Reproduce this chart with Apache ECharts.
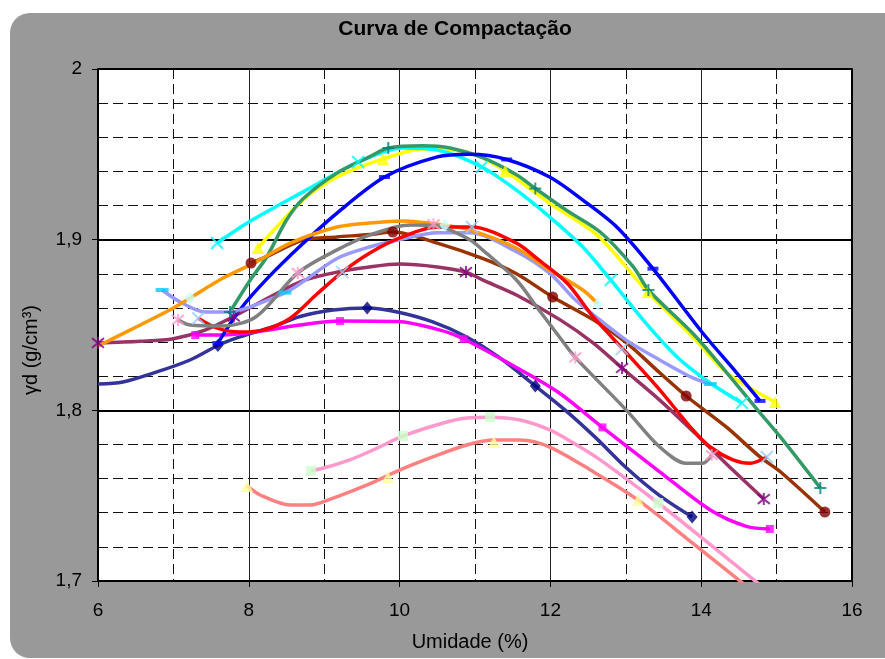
<!DOCTYPE html>
<html><head><meta charset="utf-8">
<script src="https://cdn.jsdelivr.net/npm/echarts@6/dist/echarts.min.js"></script>
<style>html,body{margin:0;padding:0;background:#fff}#c{width:885px;height:659px}</style>
</head><body><div id="c"></div>
<script>
const FONT = "'Liberation Sans', Arial, Helvetica, sans-serif";
const chartTitle = 'Curva de Compactação';
const xName = 'Umidade (%)';
const yName = 'γd (g/cm³)';
const xTicks = [6, 8, 10, 12, 14, 16];
const xTickLabels = ['6', '8', '10', '12', '14', '16'];
const yTicks = [1.7, 1.8, 1.9, 2.0];
const yTickLabels = ['1,7', '1,8', '1,9', '2'];

// Curves (moisture %, dry density g/cm3)
const navyCurve = [[6.0,1.8154],[6.33,1.8166],[6.78,1.8225],[7.22,1.8295],[7.59,1.838],[7.88,1.843],[8.32,1.849],[8.68,1.855],[9.12,1.8588],[9.57,1.860],[9.97,1.8576],[10.44,1.8518],[10.89,1.843],[11.33,1.8307],[11.8,1.8143],[12.2,1.800],[12.6,1.784],[13.01,1.7662],[13.45,1.750],[13.88,1.7375]];
const navyMarks = [[7.59,1.838],[9.57,1.860],[11.8,1.8143],[13.88,1.7375]];

const magentaCurve = [[7.29,1.8441],[7.66,1.8441],[8.1,1.846],[8.68,1.850],[9.21,1.8523],[9.97,1.852],[10.54,1.847],[10.85,1.8418],[11.42,1.8283],[12.09,1.811],[12.69,1.790],[13.45,1.764],[14.12,1.7416],[14.6,1.732],[14.91,1.7305]];
const magentaMarks = [[7.29,1.8441],[9.21,1.8523],[10.85,1.8418],[12.69,1.790],[14.91,1.7305]];

const yellowCurve = [[8.12,1.8951],[8.72,1.9232],[9.17,1.9367],[9.78,1.9473],[10.3,1.953],[10.93,1.951],[11.4,1.9402],[12.0,1.921],[12.62,1.9027],[13.29,1.8693],[13.89,1.843],[14.34,1.822],[14.98,1.8049]];
const yellowMarks = [[8.12,1.8951],[9.78,1.9473],[11.4,1.9402],[13.29,1.8693],[14.98,1.8049]];

const cyanCurve = [[7.58,1.898],[7.98,1.9098],[8.72,1.928],[9.45,1.9455],[10.05,1.9537],[10.5,1.9525],[11.09,1.9426],[11.55,1.929],[11.99,1.9133],[12.43,1.8957],[12.8,1.8764],[13.23,1.853],[13.68,1.8313],[14.12,1.816],[14.54,1.8043]];
const cyanMarks = [[7.58,1.898],[9.45,1.9455],[11.09,1.9426],[12.8,1.8764],[14.54,1.8043]];

const plumCurve = [[6.0,1.8395],[6.56,1.8405],[7.0,1.842],[7.42,1.847],[7.8,1.855],[8.28,1.8664],[8.72,1.876],[9.17,1.881],[9.6,1.884],[10.0,1.8857],[10.5,1.884],[10.88,1.881],[11.1,1.8764],[11.55,1.8676],[12.13,1.853],[12.57,1.8394],[12.95,1.8248],[13.45,1.806],[13.98,1.784],[14.42,1.765],[14.83,1.748]];
const plumMarks = [[6.0,1.8395],[7.8,1.855],[10.88,1.881],[12.95,1.8248],[14.83,1.748]];

const brownCurve = [[8.03,1.8863],[8.28,1.891],[8.72,1.8998],[9.17,1.9016],[9.6,1.903],[9.91,1.9045],[10.5,1.898],[11.1,1.889],[11.55,1.880],[12.03,1.8664],[12.57,1.853],[13.01,1.8395],[13.45,1.822],[13.8,1.8084],[14.34,1.790],[14.78,1.7727],[15.05,1.764],[15.64,1.7404]];
const brownMarks = [[8.03,1.8863],[9.91,1.9045],[12.03,1.8664],[13.8,1.8084],[15.64,1.7404]];

const greenCurve = [[7.75,1.8576],[8.02,1.8764],[8.24,1.890],[8.5,1.9115],[8.72,1.924],[9.17,1.939],[9.6,1.9485],[9.85,1.9537],[10.3,1.955],[10.67,1.9537],[11.1,1.948],[11.55,1.938],[11.8,1.930],[12.22,1.917],[12.66,1.9045],[13.1,1.884],[13.3,1.8705],[13.89,1.845],[14.34,1.822],[14.78,1.7985],[15.05,1.7844],[15.58,1.7545]];
const greenMarks = [[7.75,1.8576],[9.85,1.9537],[11.8,1.930],[13.3,1.8705],[15.58,1.7545]];

const blueCurve = [[7.59,1.8394],[7.88,1.8588],[8.24,1.877],[8.7,1.897],[9.17,1.9156],[9.8,1.9367],[10.5,1.9485],[10.93,1.950],[11.42,1.947],[11.99,1.9367],[12.43,1.9232],[12.88,1.9074],[13.36,1.883],[14.02,1.8453],[14.47,1.822],[14.78,1.8055]];
const blueMarks = [[7.59,1.8394],[9.8,1.9367],[11.42,1.947],[13.36,1.883],[14.78,1.8055]];

const lavenderCurve = [[6.85,1.8705],[7.09,1.8635],[7.42,1.8576],[7.75,1.8576],[8.1,1.862],[8.55,1.8705],[9.17,1.889],[9.6,1.8957],[10.0,1.900],[10.5,1.904],[10.93,1.904],[11.55,1.893],[12.0,1.880],[12.3,1.866],[12.57,1.856],[13.01,1.841],[13.45,1.8295],[13.89,1.819],[14.12,1.8154]];
const lavenderMarks = [[6.85,1.8705],[8.48,1.869],[14.12,1.8154]];

const orangeCurve = [[6.0,1.8377],[6.56,1.850],[7.0,1.860],[7.22,1.8658],[7.66,1.8775],[8.1,1.887],[8.55,1.898],[9.17,1.9074],[9.6,1.9098],[10.05,1.911],[10.6,1.9085],[10.93,1.9057],[11.55,1.895],[11.99,1.8822],[12.43,1.8705],[12.63,1.8623]];
const orangeMarks = [[7.22,1.8658],[10.6,1.9085],[12.63,1.8623]];

const pinkCurve = [[8.825,1.7645],[9.04,1.7668],[9.34,1.771],[9.65,1.7768],[10.05,1.785],[10.58,1.7926],[10.89,1.7955],[11.2,1.796],[11.6,1.7943],[11.99,1.7885],[12.3,1.781],[12.66,1.771],[13.43,1.7457],[14.1,1.722],[14.8,1.697]];
const pinkMarks = [[8.825,1.7645],[10.045,1.785],[11.2,1.796],[13.43,1.7457]];

const salmonCurve = [[7.976,1.7557],[8.15,1.7504],[8.55,1.7445],[8.81,1.7445],[9.12,1.7486],[9.57,1.7563],[10.0,1.765],[10.44,1.7727],[10.89,1.7797],[11.25,1.7826],[11.6,1.7826],[11.99,1.7785],[12.57,1.764],[13.16,1.7475],[13.89,1.722],[14.6,1.697]];
const salmonMarks = [[7.976,1.7557],[9.846,1.761],[11.25,1.7815],[13.16,1.7475]];

const redCurve = [[7.33,1.854],[7.58,1.8482],[7.88,1.8459],[8.19,1.847],[8.55,1.854],[8.9,1.868],[9.24,1.881],[9.6,1.892],[10.0,1.901],[10.5,1.9074],[10.96,1.9074],[11.55,1.898],[11.82,1.889],[12.22,1.8746],[12.57,1.8547],[13.01,1.8336],[13.45,1.812],[13.89,1.7885],[14.12,1.7785],[14.42,1.771],[14.65,1.769],[14.87,1.7727]];
const redMarks = [[7.33,1.854],[9.24,1.881],[10.96,1.9074],[12.95,1.836],[14.87,1.7727]];

const grayCurve = [[7.06,1.853],[7.22,1.850],[7.66,1.8494],[8.1,1.855],[8.65,1.8805],[9.17,1.894],[9.6,1.9027],[10.14,1.9086],[10.5,1.908],[10.93,1.900],[11.1,1.894],[11.55,1.8764],[11.82,1.8605],[12.13,1.8424],[12.33,1.831],[13.01,1.800],[13.45,1.7785],[13.8,1.769],[14.02,1.769],[14.14,1.7738]];
const grayMarks = [[7.06,1.853],[8.65,1.8805],[10.45,1.909],[12.33,1.831],[14.14,1.7738]];

const SYM_X = 'path://M0,0L10,10M10,0L0,10';
const SYM_STAR = 'path://M1,1L9,9M9,1L1,9M5,0L5,10';
const SYM_PLUS = 'path://M5,0L5,10M0,5L10,5';

const defs = [
  {curve: navyCurve, marks: navyMarks, line: '#333399', mark: '#000080', symbol: 'diamond', size: [11, 13], fill: true},
  {curve: magentaCurve, marks: magentaMarks, line: '#FF00FF', mark: '#FF00FF', symbol: 'rect', size: 8, fill: true},
  {curve: yellowCurve, marks: yellowMarks, line: '#FFFF00', mark: '#FFFF00', symbol: 'triangle', size: 12, fill: true},
  {curve: cyanCurve, marks: cyanMarks, line: '#00FFFF', mark: '#00FFFF', symbol: SYM_X, size: 12, fill: false},
  {curve: plumCurve, marks: plumMarks, line: '#993366', mark: '#800080', symbol: SYM_STAR, size: 12, fill: false},
  {curve: brownCurve, marks: brownMarks, line: '#993300', mark: '#800000', symbol: 'circle', size: 11, fill: true},
  {curve: greenCurve, marks: greenMarks, line: '#339966', mark: '#008080', symbol: SYM_PLUS, size: 12, fill: false},
  {curve: blueCurve, marks: blueMarks, line: '#0000FF', mark: '#0000FF', symbol: 'rect', size: [11, 4], fill: true},
  {curve: lavenderCurve, marks: lavenderMarks, line: '#9999FF', mark: '#00CCFF', symbol: 'rect', size: [13, 4], fill: true},
  {curve: orangeCurve, marks: orangeMarks, line: '#FF9900', mark: '#CCFFFF', symbol: 'diamond', size: [11, 13], fill: true},
  {curve: pinkCurve, marks: pinkMarks, line: '#FF99CC', mark: '#CCFFCC', symbol: 'rect', size: 10, fill: true},
  {curve: salmonCurve, marks: salmonMarks, line: '#FF8080', mark: '#FFFF99', symbol: 'triangle', size: 12, fill: true},
  {curve: redCurve, marks: redMarks, line: '#FF0000', mark: '#99CCFF', symbol: SYM_X, size: 12, fill: false},
  {curve: grayCurve, marks: grayMarks, line: '#808080', mark: '#FF99CC', symbol: SYM_STAR, size: 12, fill: false}
];

const series = [];
defs.forEach((d) => {
  series.push({
    type: 'line', data: d.curve, smooth: 0.3, showSymbol: false, symbol: 'none',
    lineStyle: {color: d.line, width: 3.5}, itemStyle: {color: d.line},
    z: 2, clip: true, silent: true
  });
});
defs.forEach((d) => {
  series.push({
    type: 'scatter', data: d.marks, symbol: d.symbol, symbolSize: d.size,
    itemStyle: d.fill ? {color: d.mark} : {color: 'rgba(0,0,0,0)', borderColor: d.mark, borderWidth: 2},
    z: 3, clip: true, silent: true
  });
});

const labelFont = {fontFamily: FONT, fontSize: 19, color: '#000'};

const chart = echarts.init(document.getElementById('c'), null, {renderer: 'canvas'});
chart.setOption({
  animation: false,
  backgroundColor: '#fff',
  graphic: [
    {type: 'rect', z: -100, silent: true, shape: {x: 10, y: 13, width: 900, height: 645, r: 20}, style: {fill: '#999999'}},
    {type: 'text', z: 100, x: 455, y: 29, style: {text: chartTitle, fontFamily: FONT, fontSize: 21, fontWeight: 'bold', fill: '#000', textAlign: 'center', textVerticalAlign: 'middle'}},
    {type: 'text', z: 100, x: 470, y: 642, style: {text: xName, fontFamily: FONT, fontSize: 20, fill: '#000', textAlign: 'center', textVerticalAlign: 'middle'}},
    {type: 'text', z: 100, x: 31, y: 350, rotation: Math.PI / 2, style: {text: yName, fontFamily: FONT, fontSize: 20, fill: '#000', textAlign: 'center', textVerticalAlign: 'middle'}}
  ],
  grid: {left: 98, right: 33, top: 69, bottom: 78, show: true, backgroundColor: '#fff', borderWidth: 0, containLabel: false, outerBoundsMode: 'none'},
  xAxis: [{
    type: 'value', min: 6, max: 16, interval: 2,
    axisLine: {show: true, onZero: false, lineStyle: {color: '#000', width: 2}},
    axisTick: {show: true, length: 6, lineStyle: {color: '#000', width: 1}},
    axisLabel: Object.assign({margin: 20, formatter: v => { const i = xTicks.findIndex(t => Math.abs(t - v) < 1e-6); return i >= 0 ? xTickLabels[i] : ''; }}, labelFont),
    splitLine: {show: true, lineStyle: {color: '#222', width: 1}},
    minorTick: {show: false, splitNumber: 2},
    minorSplitLine: {show: true, lineStyle: {color: '#111', width: 1, type: [10, 5]}}
  }],
  yAxis: [{
    type: 'value', min: 1.7, max: 2.0, interval: 0.1,
    axisLine: {show: true, onZero: false, lineStyle: {color: '#000', width: 2}},
    axisTick: {show: true, length: 6, lineStyle: {color: '#000', width: 1}},
    axisLabel: Object.assign({margin: 16, formatter: v => { const i = yTicks.findIndex(t => Math.abs(t - v) < 1e-6); return i >= 0 ? yTickLabels[i] : ''; }}, labelFont),
    splitLine: {show: true, lineStyle: {color: '#000', width: 2}},
    minorTick: {show: false, splitNumber: 5},
    minorSplitLine: {show: true, lineStyle: {color: '#111', width: 1, type: [10, 5]}}
  }, {
    type: 'value', position: 'right', min: 1.7, max: 2.0, interval: 0.1,
    axisLine: {show: true, onZero: false, lineStyle: {color: '#000', width: 2}},
    axisTick: {show: false}, axisLabel: {show: false}, splitLine: {show: false}
  }],
  series: series
});
</script></body></html>
